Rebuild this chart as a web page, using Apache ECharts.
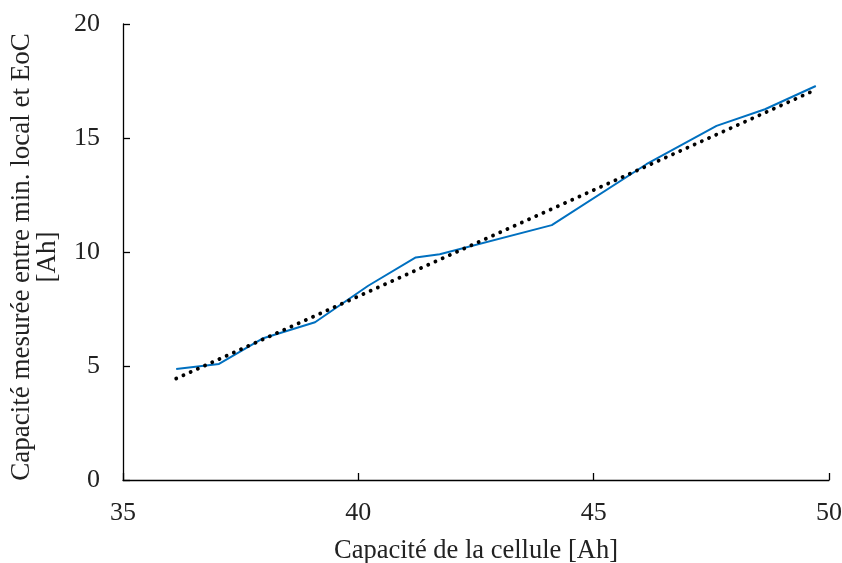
<!DOCTYPE html>
<html><head><meta charset="utf-8">
<script src="https://cdn.jsdelivr.net/npm/echarts@6/dist/echarts.min.js"></script>
<style>html,body{margin:0;padding:0;background:#fff}#c{width:842px;height:563px}</style>
</head><body><div id="c"></div>
<script>
const cellCapacity = [36.13, 37.04, 37.98, 39.08, 40.21, 41.22, 41.73, 44.11, 46.12, 47.61, 48.64, 49.72];
const measuredCapacity = [4.87, 5.09, 6.22, 6.92, 8.52, 9.76, 9.9, 11.18, 13.85, 15.53, 16.26, 17.28];
const trendX = [36.13, 49.72];
const trendY = [4.45, 17.12];
const xTicks = [35, 50, 5];
const yTicks = [0, 20, 5];

const font = 'Liberation Serif';
const chart = echarts.init(document.getElementById('c'), null, {renderer: 'canvas'});
chart.setOption({
  animation: false,
  backgroundColor: '#fff',
  grid: {left: 123, right: 13, top: 24, bottom: 83, containLabel: false, outerBoundsMode: 'none'},
  xAxis: {
    type: 'value', min: xTicks[0], max: xTicks[1], interval: xTicks[2],
    name: 'Capacité de la cellule [Ah]', nameLocation: 'middle', nameGap: 58,
    nameTextStyle: {fontFamily: font, fontSize: 26.5, color: '#222'},
    axisLine: {show: true, lineStyle: {color: '#000', width: 1.3}},
    axisTick: {show: true, inside: true, length: 7, lineStyle: {color: '#000', width: 1.3}},
    axisLabel: {fontFamily: font, fontSize: 26, color: '#222', margin: 20},
    splitLine: {show: false}
  },
  yAxis: {
    type: 'value', min: yTicks[0], max: yTicks[1], interval: yTicks[2],
    name: 'Capacité mesurée entre min. local et EoC\n[Ah]', nameLocation: 'middle', nameGap: 62,
    nameTextStyle: {fontFamily: font, fontSize: 27, color: '#222', lineHeight: 26, padding: [0, 10, 0, 0]},
    axisLine: {show: true, lineStyle: {color: '#000', width: 1.3}},
    axisTick: {show: true, inside: true, length: 7, lineStyle: {color: '#000', width: 1.3}},
    axisLabel: {fontFamily: font, fontSize: 26, color: '#222', margin: 23},
    splitLine: {show: false}
  },
  series: [
    {
      type: 'line', data: cellCapacity.map((x, i) => [x, measuredCapacity[i]]),
      showSymbol: false, symbol: 'none',
      lineStyle: {color: '#0070C0', width: 2}, z: 2
    },
    {
      type: 'line', data: trendX.map((x, i) => [x, trendY[i]]),
      showSymbol: false, symbol: 'none',
      lineStyle: {color: '#000', width: 3.8, type: [0.1, 7.8], cap: 'round'}, z: 3
    }
  ]
});
</script></body></html>
